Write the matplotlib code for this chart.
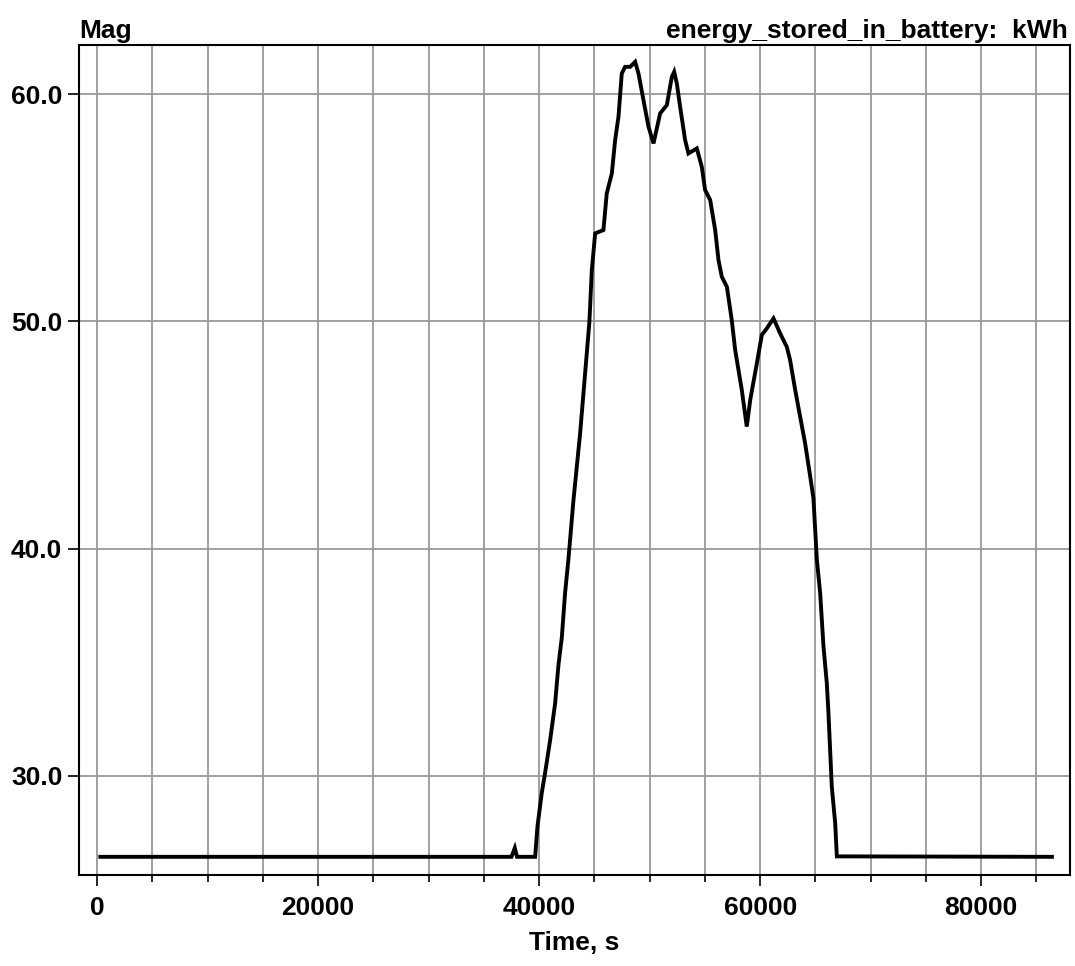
import matplotlib.pyplot as plt
from matplotlib.ticker import MultipleLocator, FormatStrFormatter

plt.rcParams['font.family'] = ['Liberation Sans', 'DejaVu Sans']
plt.rcParams['font.weight'] = 'bold'

# time (s) and stored energy (kWh)
time_s = [300, 37500, 37800, 38000, 39640, 39850, 40240, 40540, 41000, 41450,
          41750, 42050, 42350, 42650, 43110, 43710, 44550, 44770, 45070, 45820,
          46120, 46580, 46880, 47180, 47480, 47780, 48240, 48690, 48990, 49440,
          49900, 50350, 50950, 51560, 52010, 52220, 52460, 52760, 53210, 53510,
          54270, 54720, 55020, 55480, 55930, 56230, 56530, 56990, 57430, 57740,
          58340, 58790, 59100, 59700, 60150, 60600, 61210, 61810, 62410, 62710,
          63170, 63620, 64070, 64530, 64820, 65130, 65430, 65730, 66030, 66180,
          66330, 66480, 66790, 66940, 86400]
energy_kwh = [26.44, 26.44, 26.83, 26.44, 26.44, 27.77, 29.25, 30.13, 31.58, 33.2,
              34.88, 36.07, 38.05, 39.52, 42.14, 45.07, 49.98, 52.26, 53.87, 54.02,
              55.63, 56.51, 57.98, 59.0, 60.91, 61.2, 61.2, 61.42, 60.91, 59.74,
              58.56, 57.83, 59.15, 59.52, 60.76, 60.98, 60.47, 59.44, 57.98, 57.39,
              57.61, 56.8, 55.78, 55.34, 54.02, 52.7, 51.96, 51.52, 50.06, 48.74,
              46.98, 45.37, 46.54, 48.15, 49.4, 49.69, 50.13, 49.47, 48.88, 48.3,
              46.98, 45.8, 44.63, 43.17, 42.22, 39.52, 38.04, 35.7, 34.09, 32.77,
              31.16, 29.54, 27.92, 26.46, 26.44]

fig = plt.figure(figsize=(10.75, 9.66), dpi=100)
ax = fig.add_axes([0.0735, 0.0942, 0.922, 0.8592])

ax.plot(time_s, energy_kwh, color='black', linewidth=2.8, solid_joinstyle='miter')

ax.set_xlim(-1630, 88050)
ax.set_ylim(25.64, 62.16)

ax.xaxis.set_major_locator(MultipleLocator(20000))
ax.xaxis.set_minor_locator(MultipleLocator(5000))
ax.yaxis.set_major_locator(MultipleLocator(10))
ax.yaxis.set_major_formatter(FormatStrFormatter('%.1f'))

ax.grid(which='both', axis='x', color='#999999', linewidth=1.3)
ax.grid(which='major', axis='y', color='#999999', linewidth=1.3)
ax.set_axisbelow(True)

ax.tick_params(which='major', direction='out', length=8, width=1.2, labelsize=19, pad=4)
ax.tick_params(which='minor', direction='out', length=5, width=1.2)
ax.tick_params(axis='x', which='major', pad=7)
for s in ax.spines.values():
    s.set_linewidth(1.5)

ax.set_xlabel('Time, s', fontsize=19, fontweight='bold', labelpad=8)
fig.text(0.0735, 0.961, 'Mag', fontsize=19, fontweight='bold', ha='left', va='baseline')
fig.text(0.9935, 0.961, 'energy_stored_in_battery:  kWh', fontsize=19,
         fontweight='bold', ha='right', va='baseline')

plt.savefig('out.png', dpi=100)
